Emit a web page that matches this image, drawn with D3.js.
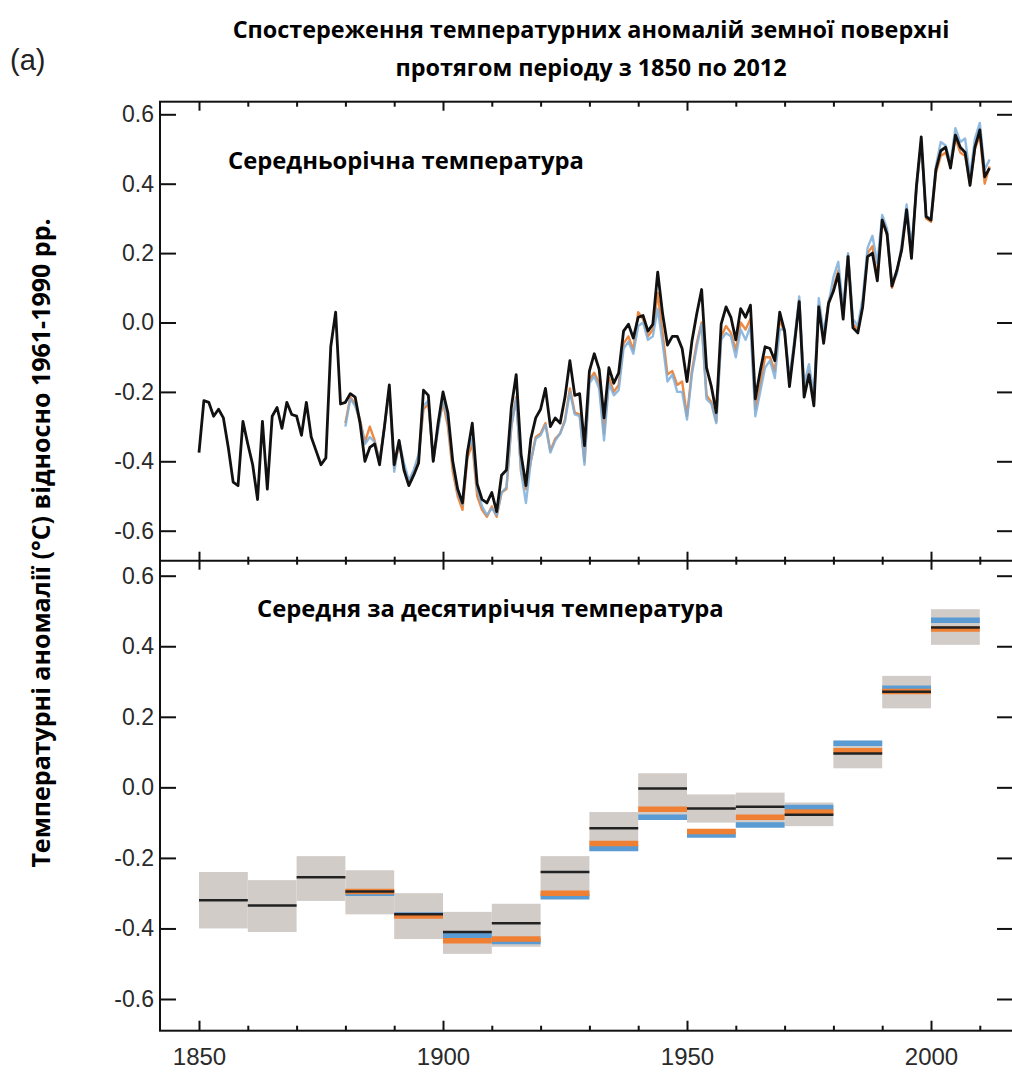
<!DOCTYPE html>
<html>
<head>
<meta charset="utf-8">
<script src="https://cdn.jsdelivr.net/npm/d3@7"></script>
<style>
  body { margin: 0; background: #fff; }
  svg { display: block; }
</style>
</head>
<body>
<div id="chart"></div>
<script>
// annual anomalies (°C, vs 1961-1990)
var blackStart = 1850
var blackSeries = [
  -0.375, -0.225, -0.230, -0.270, -0.250, -0.275, -0.360, -0.460, -0.470, -0.285,
  -0.350, -0.410, -0.510, -0.285, -0.480, -0.270, -0.245, -0.305, -0.230, -0.265,
  -0.270, -0.325, -0.230, -0.330, -0.370, -0.410, -0.390, -0.070, 0.030, -0.235,
  -0.230, -0.205, -0.215, -0.290, -0.400, -0.360, -0.350, -0.410, -0.300, -0.180,
  -0.410, -0.340, -0.425, -0.470, -0.440, -0.405, -0.195, -0.210, -0.400, -0.290,
  -0.200, -0.260, -0.400, -0.480, -0.520, -0.375, -0.290, -0.465, -0.510, -0.520,
  -0.490, -0.545, -0.440, -0.425, -0.245, -0.150, -0.380, -0.470, -0.335, -0.275,
  -0.250, -0.190, -0.300, -0.275, -0.290, -0.215, -0.110, -0.210, -0.205, -0.355,
  -0.140, -0.090, -0.135, -0.275, -0.130, -0.175, -0.145, -0.025, -0.005, -0.045,
  0.015, 0.020, -0.025, -0.005, 0.145, 0.025, -0.065, -0.040, -0.040, -0.075,
  -0.170, -0.055, 0.025, 0.095, -0.130, -0.185, -0.260, -0.005, 0.045, 0.015,
  -0.050, 0.040, 0.015, 0.050, -0.220, -0.140, -0.070, -0.075, -0.110, 0.030,
  -0.025, -0.185, -0.065, 0.060, -0.215, -0.150, -0.240, 0.045, -0.060, 0.055,
  0.090, 0.140, 0.010, 0.190, -0.015, -0.030, 0.045, 0.190, 0.200, 0.120,
  0.295, 0.255, 0.105, 0.150, 0.210, 0.325, 0.185, 0.390, 0.535, 0.305,
  0.295, 0.440, 0.495, 0.505, 0.445, 0.540, 0.505, 0.490, 0.395, 0.505,
  0.555, 0.420, 0.445
]

var colorStart = 1880
var orangeSeries = [
  -0.290, -0.215, -0.235, -0.280, -0.345, -0.300, -0.340, -0.400, -0.300, -0.190,
  -0.420, -0.350, -0.415, -0.460, -0.430, -0.390, -0.250, -0.235, -0.395, -0.300,
  -0.230, -0.300, -0.430, -0.500, -0.540, -0.390, -0.350, -0.500, -0.540, -0.560,
  -0.530, -0.560, -0.490, -0.480, -0.300, -0.215, -0.430, -0.480, -0.400, -0.330,
  -0.320, -0.290, -0.370, -0.335, -0.320, -0.280, -0.190, -0.260, -0.265, -0.400,
  -0.165, -0.145, -0.175, -0.320, -0.160, -0.200, -0.180, -0.060, -0.040, -0.080,
  0.030, 0.010, -0.040, -0.020, 0.085, -0.030, -0.150, -0.140, -0.180, -0.170,
  -0.270, -0.140, -0.060, 0.000, -0.210, -0.230, -0.285, -0.040, -0.010, -0.030,
  -0.080, 0.000, -0.020, 0.010, -0.250, -0.180, -0.100, -0.100, -0.140, 0.010,
  -0.030, -0.170, -0.060, 0.065, -0.200, -0.140, -0.230, 0.050, -0.045, 0.060,
  0.100, 0.150, 0.020, 0.195, -0.005, -0.020, 0.050, 0.200, 0.220, 0.130,
  0.300, 0.250, 0.100, 0.145, 0.210, 0.320, 0.190, 0.390, 0.520, 0.300,
  0.290, 0.430, 0.480, 0.490, 0.450, 0.530, 0.490, 0.480, 0.400, 0.500,
  0.540, 0.400, 0.450
]
var blueSeries = [
  -0.300, -0.220, -0.240, -0.285, -0.350, -0.330, -0.345, -0.400, -0.305, -0.195,
  -0.430, -0.340, -0.405, -0.455, -0.425, -0.380, -0.240, -0.225, -0.400, -0.310,
  -0.220, -0.285, -0.410, -0.490, -0.525, -0.370, -0.335, -0.480, -0.530, -0.555,
  -0.535, -0.555, -0.490, -0.475, -0.300, -0.220, -0.430, -0.520, -0.400, -0.335,
  -0.325, -0.295, -0.375, -0.340, -0.320, -0.285, -0.200, -0.265, -0.270, -0.410,
  -0.175, -0.155, -0.190, -0.340, -0.175, -0.210, -0.195, -0.075, -0.055, -0.090,
  -0.010, 0.000, -0.050, -0.040, 0.040, -0.060, -0.170, -0.150, -0.200, -0.200,
  -0.280, -0.150, -0.070, -0.005, -0.220, -0.235, -0.290, -0.050, -0.030, -0.040,
  -0.100, -0.020, -0.050, -0.010, -0.270, -0.200, -0.130, -0.110, -0.160, -0.020,
  -0.020, -0.160, -0.050, 0.075, -0.180, -0.120, -0.210, 0.070, -0.030, 0.055,
  0.130, 0.175, 0.040, 0.200, 0.010, -0.010, 0.070, 0.215, 0.250, 0.170,
  0.310, 0.270, 0.110, 0.140, 0.225, 0.340, 0.220, 0.380, 0.520, 0.305,
  0.300, 0.450, 0.520, 0.510, 0.460, 0.560, 0.520, 0.530, 0.420, 0.530,
  0.575, 0.440, 0.470
]

// decadal means and uncertainty range
var decades = [1850, 1860, 1870, 1880, 1890, 1900, 1910, 1920, 1930, 1940, 1950, 1960, 1970, 1980, 1990, 2000]
var decBlack  = [-0.320, -0.335, -0.255, -0.295, -0.360, -0.410, -0.385, -0.240, -0.116, -0.003, -0.060, -0.055, -0.078, 0.096, 0.271, 0.453]
var decOrange = [null, null, null, -0.295, -0.365, -0.435, -0.430, -0.300, -0.159, -0.062, -0.125, -0.085, -0.070, 0.104, 0.272, 0.449]
var decBlue   = [null, null, null, -0.300, -0.362, -0.420, -0.437, -0.310, -0.173, -0.085, -0.135, -0.107, -0.057, 0.125, 0.281, 0.474]
var decLow    = [-0.400, -0.410, -0.322, -0.360, -0.430, -0.472, -0.452, -0.312, -0.180, -0.080, -0.100, -0.110, -0.110, 0.054, 0.224, 0.404]
var decHigh   = [-0.240, -0.263, -0.195, -0.235, -0.300, -0.353, -0.330, -0.195, -0.070, 0.040, -0.020, -0.015, -0.043, 0.132, 0.316, 0.505]

var yTicks = [-0.6, -0.4, -0.2, 0.0, 0.2, 0.4, 0.6]
var xMajor = [1850, 1900, 1950, 2000]
var xMinor = [1860, 1870, 1880, 1890, 1910, 1920, 1930, 1940, 1960, 1970, 1980, 1990, 2010]

var W = 1012, H = 1075
var frameL = 160, frameR = 1013, frameT = 101.7, frameM = 560.7, frameB = 1030.7

var svg = d3.select("#chart").append("svg")
  .attr("width", W).attr("height", H)

var x = d3.scaleLinear().domain([1850, 2000]).range([199, 931])
var yTop = d3.scaleLinear().domain([-0.6, 0.6]).range([530.7, 114.3])
var yBot = d3.scaleLinear().domain([-0.6, 0.6]).range([999, 575.7])

var fmt = function(d){ return d.toFixed(1) }
var ink = "#111"

// ---- bottom panel: decadal boxes
var dec = decades.map(function(d, i){
  return {start: d, black: decBlack[i], orange: decOrange[i], blue: decBlue[i], lo: decLow[i], hi: decHigh[i]}
})
var gBox = svg.append("g")
gBox.selectAll("rect.unc").data(dec).enter().append("rect")
  .attr("class", "unc")
  .attr("x", function(d){ return x(d.start) })
  .attr("width", function(d){ return x(d.start + 10) - x(d.start) })
  .attr("y", function(d){ return yBot(d.hi) })
  .attr("height", function(d){ return yBot(d.lo) - yBot(d.hi) })
  .attr("fill", "#d2ccc8")

function decLines(key, color, w){
  gBox.selectAll("line." + key).data(dec.filter(function(d){ return d[key] != null }))
    .enter().append("line")
    .attr("class", key)
    .attr("x1", function(d){ return x(d.start) })
    .attr("x2", function(d){ return x(d.start + 10) })
    .attr("y1", function(d){ return yBot(d[key]) })
    .attr("y2", function(d){ return yBot(d[key]) })
    .attr("stroke", color)
    .attr("stroke-width", w)
}
decLines("blue", "#5b9bd3", 5.5)
decLines("orange", "#ee7f33", 5.5)
decLines("black", "#222", 2.5)

// ---- top panel: annual lines
function toPts(arr, start){
  return arr.map(function(v, i){ return {year: start + i, value: v} })
}
var line = d3.line()
  .x(function(d){ return x(d.year) })
  .y(function(d){ return yTop(d.value) })

var gLine = svg.append("g")
gLine.append("path").datum(toPts(orangeSeries, colorStart))
  .attr("d", line).attr("fill", "none")
  .attr("stroke", "#ec8a45").attr("stroke-width", 2.4).attr("stroke-linejoin", "round")
gLine.append("path").datum(toPts(blueSeries, colorStart))
  .attr("d", line).attr("fill", "none")
  .attr("stroke", "#7daedb").attr("stroke-width", 2.4).attr("stroke-opacity", 0.85).attr("stroke-linejoin", "round")
gLine.append("path").datum(toPts(blackSeries, blackStart))
  .attr("d", line).attr("fill", "none")
  .attr("stroke", ink).attr("stroke-width", 2.8).attr("stroke-linejoin", "round")

// ---- frames
svg.append("rect")
  .attr("x", frameL).attr("y", frameT)
  .attr("width", frameR - frameL).attr("height", frameB - frameT)
  .attr("fill", "none").attr("stroke", ink).attr("stroke-width", 2)
svg.append("line")
  .attr("x1", frameL).attr("x2", frameR).attr("y1", frameM).attr("y2", frameM)
  .attr("stroke", ink).attr("stroke-width", 2)

// ---- axes
function styleAxis(g, labels, size){
  g.select(".domain").remove()
  g.selectAll(".tick line").attr("stroke", ink).attr("stroke-width", 2)
  g.selectAll(".tick text")
    .attr("fill", "#2a2a2a")
    .style("font-family", "'Liberation Sans', Arial, sans-serif")
    .style("font-size", (size || 23) + "px")
  if (!labels) g.selectAll(".tick text").remove()
}

// left y axes
svg.append("g").attr("transform", "translate(" + frameL + ",0)")
  .call(d3.axisLeft(yTop).tickValues(yTicks).tickFormat(fmt).tickSize(-16).tickPadding(6))
  .call(styleAxis, true, 23)
svg.append("g").attr("transform", "translate(" + frameL + ",0)")
  .call(d3.axisLeft(yBot).tickValues(yTicks).tickFormat(fmt).tickSize(-16).tickPadding(6))
  .call(styleAxis, true, 23)
// right y axes (ticks only)
svg.append("g").attr("transform", "translate(" + frameR + ",0)")
  .call(d3.axisRight(yTop).tickValues(yTicks).tickSize(-16))
  .call(styleAxis, false)
svg.append("g").attr("transform", "translate(" + frameR + ",0)")
  .call(d3.axisRight(yBot).tickValues(yTicks).tickSize(-16))
  .call(styleAxis, false)

// bottom x axis
svg.append("g").attr("transform", "translate(0," + frameB + ")")
  .call(d3.axisBottom(x).tickValues(xMajor).tickFormat(d3.format("d")).tickSize(-10).tickPadding(17))
  .call(styleAxis, true, 24)
svg.append("g").attr("transform", "translate(0," + frameB + ")")
  .call(d3.axisBottom(x).tickValues(xMinor).tickSize(-5))
  .call(styleAxis, false)
// top x ticks
svg.append("g").attr("transform", "translate(0," + frameT + ")")
  .call(d3.axisTop(x).tickValues(xMajor).tickSize(-9))
  .call(styleAxis, false)
svg.append("g").attr("transform", "translate(0," + frameT + ")")
  .call(d3.axisTop(x).tickValues(xMinor).tickSize(-5))
  .call(styleAxis, false)
// middle divider ticks (both directions)
;[9, -9].forEach(function(s){
  svg.append("g").attr("transform", "translate(0," + frameM + ")")
    .call(d3.axisBottom(x).tickValues(xMajor).tickSize(s))
    .call(styleAxis, false)
})
;[4, -4].forEach(function(s){
  svg.append("g").attr("transform", "translate(0," + frameM + ")")
    .call(d3.axisBottom(x).tickValues(xMinor).tickSize(s))
    .call(styleAxis, false)
})

// ---- texts
var boldFont = "'Open Sans', 'Noto Sans', sans-serif"
svg.append("text")
  .attr("x", 10).attr("y", 70)
  .style("font-family", "'Liberation Sans', Arial, sans-serif")
  .style("font-size", "29px").attr("fill", "#222")
  .text("(a)")

svg.append("text")
  .attr("x", 591).attr("y", 38).attr("text-anchor", "middle")
  .style("font-family", boldFont).style("font-weight", "bold").style("font-size", "23.4px")
  .text("Спостереження температурних аномалій земної поверхні")
svg.append("text")
  .attr("x", 591).attr("y", 76).attr("text-anchor", "middle")
  .style("font-family", boldFont).style("font-weight", "bold").style("font-size", "23.4px")
  .text("протягом періоду з 1850 по 2012")

svg.append("text")
  .attr("x", 228).attr("y", 169)
  .style("font-family", boldFont).style("font-weight", "bold").style("font-size", "23.8px")
  .text("Середньорічна температура")
svg.append("text")
  .attr("x", 257).attr("y", 617)
  .style("font-family", boldFont).style("font-weight", "bold").style("font-size", "23.8px")
  .text("Середня за десятиріччя температура")

svg.append("text")
  .attr("transform", "translate(50,543) rotate(-90)")
  .attr("text-anchor", "middle")
  .style("font-family", boldFont).style("font-weight", "bold").style("font-size", "25px")
  .text("Температурні аномалії (°C) відносно 1961-1990 рр.")
</script>
</body>
</html>
